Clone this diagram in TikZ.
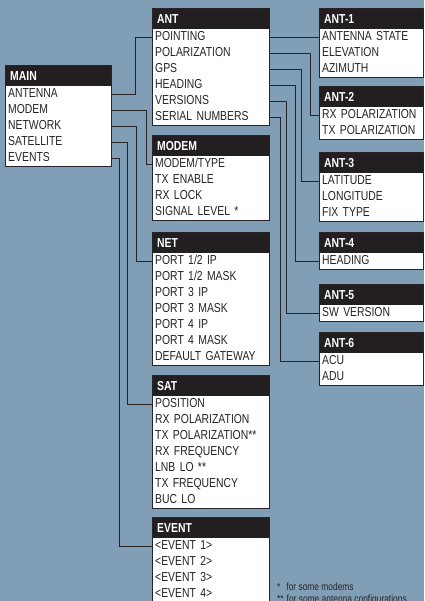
\documentclass[tikz,border=0pt]{standalone}
\usepackage{fontspec}
\setmainfont{Liberation Sans}[FakeStretch=0.8]
\usetikzlibrary{calc, positioning}
\definecolor{bgblue}{RGB}{128,158,181}
\definecolor{headblack}{RGB}{35,31,32}
\definecolor{ink}{RGB}{38,36,37}
\tikzset{
  head/.style={
    fill=headblack,
    text=white,
    font=\fontsize{13}{14}\selectfont\bfseries,
    inner xsep=5pt,
    inner ysep=0pt,
    minimum height=20pt,
    text height=9pt,
    text depth=0pt,
    align=left
  },
  row/.style={
    fill=white,
    text=ink,
    font=\fontsize{13}{14}\selectfont,
    inner xsep=3pt,
    inner ysep=0pt,
    minimum height=16pt,
    text height=9pt,
    text depth=2pt,
    align=left
  },
  frame/.style={
    draw=ink,
    line width=0.8pt
  },
  link/.style={
    draw=ink,
    line width=0.9pt
  },
  note/.style={
    text=ink,
    font=\fontsize{10.5}{12}\selectfont,
    inner sep=0pt
  }
}
% name, left x, top of rows, width, title, rows
\newcommand{\menubox}[6]{%
  \pgfmathsetmacro\hw{#4-10}
  \pgfmathsetmacro\rw{#4-6}
  \node[head, text width=\hw pt, anchor=south west] (#1) at (#2,#3) {#5};
  \foreach \entry [count=\rowno] in {#6} {
    \node[row, text width=\rw pt, anchor=north west] (#1-\rowno)
      at ($(#1.south west)+(0,{16*(\rowno-1)})$) {\entry};
    \xdef\nrows{\rowno}
  }
  \draw[frame] (#1.north west) rectangle (#1-\nrows.south east);
}

\begin{document}
\begin{tikzpicture}[x=1pt, y=-1pt]
\useasboundingbox (0,0) rectangle (424,601);
\fill[bgblue] (0,0) rectangle (424,601);
\clip (0,0) rectangle (424,601);

% main menu and its branches
\menubox{main}{5}{86}{106}{MAIN}{ANTENNA,MODEM,NETWORK,SATELLITE,EVENTS}
\menubox{ant}{152}{29}{117}{ANT}{POINTING,POLARIZATION,GPS,HEADING,VERSIONS,SERIAL NUMBERS}
\menubox{modem}{152}{156}{117}{MODEM}{MODEM/TYPE,TX ENABLE,RX LOCK,SIGNAL LEVEL *}
\menubox{net}{152}{253}{117}{NET}{PORT 1/2 IP,PORT 1/2 MASK,PORT 3 IP,PORT 3 MASK,PORT 4 IP,PORT 4 MASK,DEFAULT GATEWAY}
\menubox{sat}{152}{396}{117}{SAT}{POSITION,RX POLARIZATION,TX POLARIZATION**,RX FREQUENCY,LNB LO **,TX FREQUENCY,BUC LO}
\menubox{event}{152}{538}{117}{EVENT}{<EVENT 1>,<EVENT 2>,<EVENT 3>,<EVENT 4>}

% antenna submenus
\menubox{ant1}{319}{29}{104}{ANT-1}{ANTENNA STATE,ELEVATION,AZIMUTH}
\menubox{ant2}{319}{107}{104}{ANT-2}{RX POLARIZATION,TX POLARIZATION}
\menubox{ant3}{319}{173}{104}{ANT-3}{LATITUDE,LONGITUDE,FIX TYPE}
\menubox{ant4}{319}{253}{104}{ANT-4}{HEADING}
\menubox{ant5}{319}{305}{104}{ANT-5}{SW VERSION}
\menubox{ant6}{319}{353}{104}{ANT-6}{ACU,ADU}

% connectors
\foreach \src/\dst/\off in {main-1/ant/24, main-2/modem/35, main-3/net/25, main-4/sat/16, main-5/event/8}
  \draw[link] (\src.east) -- +(\off,0) |- (\dst-1.west);
\draw[link] (ant-1.east) -- (ant1-1.west);
\foreach \i/\off in {2/41, 3/32, 4/26, 5/17, 6/11}
  \draw[link] (ant-\i.east) -- +(\off,0) |- (ant\i-1.west);

% footnotes
\node[note, anchor=base west] (fn1) at (277,590) {*\hspace{6pt}for some modems};
\node[note, anchor=base west] (fn2) at (277,602) {**\hspace{3pt}for some antenna configurations};

\end{tikzpicture}
\end{document}
